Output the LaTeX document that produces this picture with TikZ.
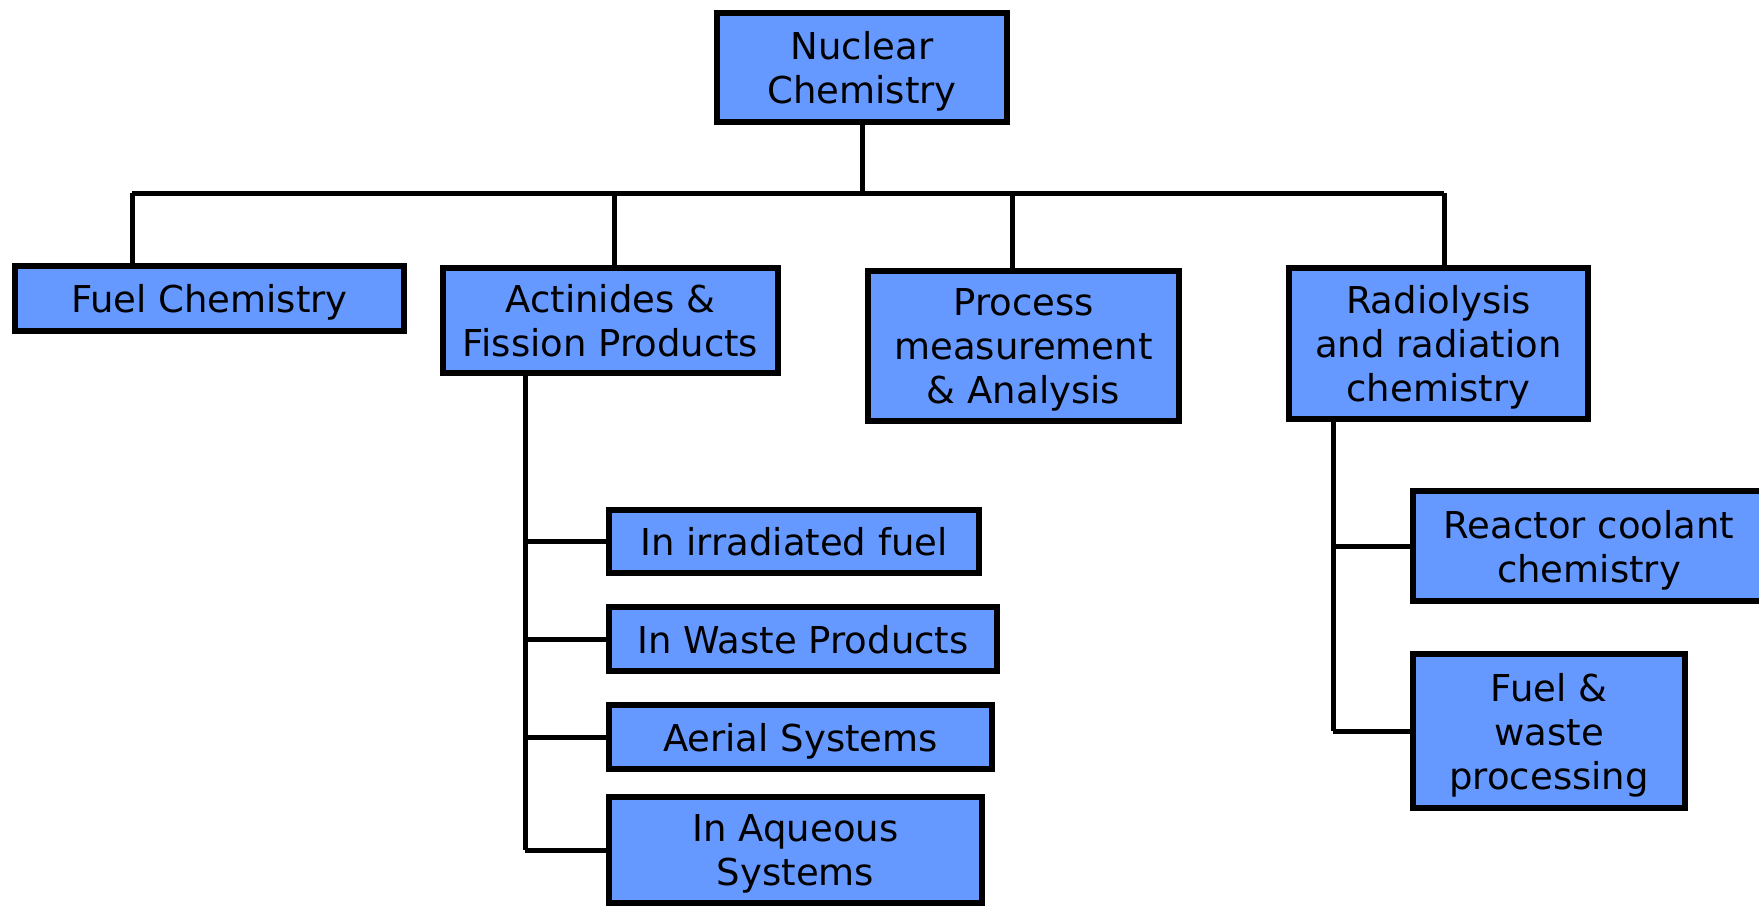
\documentclass[tikz,border=0pt]{standalone}
\usepackage{fontspec}
\setmainfont{DejaVu Sans}
\usepackage{tikz}
\usetikzlibrary{arrows, calc, positioning, shapes}
\definecolor{boxblue}{RGB}{102,153,255}

\begin{document}
\begin{tikzpicture}[x=0.5pt, y=-0.5pt,
		topic/.style={draw, line width=3pt, fill=boxblue, inner sep=0pt, text depth=0pt, align=center, font=\fontsize{18.5}{22}\selectfont},
		link/.style={line width=2.5pt}]
			\useasboundingbox (0 ,0 ) rectangle (1759 , 906);
			\clip (0 ,0 ) rectangle (1759 , 906);
			\node[topic, minimum width=145pt, minimum height=54.5pt] (nuc) at (862 , 67.5) {Nuclear\\Chemistry};
			\node[topic, minimum width=194.5pt, minimum height=32.5pt] (fuel) at (209.5 , 298.5) {Fuel Chemistry};
			\node[topic, minimum width=167.5pt, minimum height=52.5pt] (act) at (610.5 , 320.5) {Actinides \&\\Fission Products};
			\node[topic, minimum width=155.5pt, minimum height=75pt] (proc) at (1023.5 , 346) {Process\\measurement\\\& Analysis};
			\node[topic, minimum width=149.5pt, minimum height=75.5pt] (rad) at (1438.5 , 343.5) {Radiolysis\\and radiation\\chemistry};
			\node[topic, minimum width=185pt, minimum height=31.5pt] (irr) at (794 , 541.5) {In irradiated fuel};
			\node[topic, minimum width=194pt, minimum height=32pt] (wst) at (803 , 639) {In Waste Products};
			\node[topic, minimum width=191.5pt, minimum height=32pt] (aer) at (800.5 , 737) {Aerial Systems};
			\node[topic, minimum width=186.5pt, minimum height=53pt] (aqu) at (795.5 , 850) {In Aqueous\\Systems};
			\node[topic, minimum width=176pt, minimum height=55pt] (rea) at (1589 , 546) {Reactor coolant\\chemistry};
			\node[topic, minimum width=136pt, minimum height=77pt] (few) at (1549 , 731) {Fuel \&\\waste\\processing};
			\coordinate (barL) at (132 , 193);
			\coordinate (barR) at (1444 , 193);
			\coordinate (dA) at (614 , 193);
			\coordinate (dP) at (1012 , 193);
			\coordinate (tA) at (525 , 376);
			\coordinate (tR) at (1333 , 422);
			\draw[link] (barL) -- (barR);
			\draw[link] (nuc.south) -- (nuc.south |- barL);
			\draw[link] (barL) -- (barL |- fuel.north);
			\draw[link] (dA) -- (dA |- act.north);
			\draw[link] (dP) -- (dP |- proc.north);
			\draw[link] (barR) -- (barR |- rad.north);
			\draw[link] (tA) -- (tA |- aqu.west);
			\foreach \n in {irr, wst, aer, aqu}
				\draw[link] (tA |- \n.west) -- (\n.west);
			\draw[link] (tR) -- (tR |- few.west);
			\foreach \n in {rea, few}
				\draw[link] (tR |- \n.west) -- (\n.west);
\end{tikzpicture}
\end{document}
